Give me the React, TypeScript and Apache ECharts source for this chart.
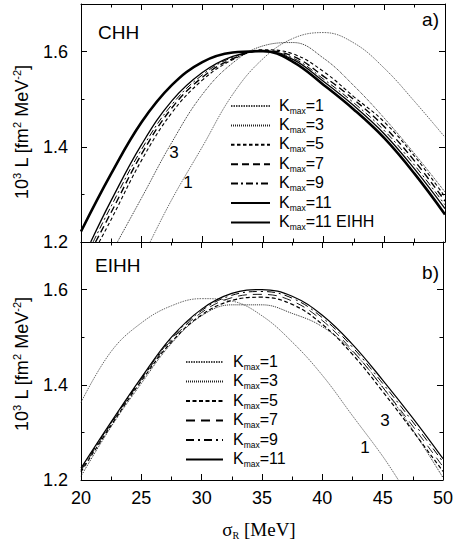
import React, { useEffect, useRef } from "react";
import * as echarts from "echarts";

// ---------- data ----------
const X_MIN = 20;
const X_MAX = 50;
const X_STEP = 5;
const Y_MIN = 1.2;
const Y_MAX = 1.7;
const Y_STEP = 0.2;

// Panel a) CHH  [sigma_R, 10^3 L]
const chhK1 = [[25.7, 1.2], [27.5, 1.29], [30, 1.4], [32.5, 1.51], [35, 1.585], [37.5, 1.628], [40, 1.64], [42.5, 1.618], [45, 1.565], [47.5, 1.495], [50, 1.42]];
const chhK3 = [[23.0, 1.2], [25, 1.293], [27.5, 1.41], [30, 1.51], [32.5, 1.576], [35, 1.612], [37.5, 1.619], [40, 1.586], [42.5, 1.528], [45, 1.46], [47.5, 1.385], [50, 1.305]];
const chhK5 = [[21.5, 1.2], [22.5, 1.248], [25, 1.372], [27.5, 1.472], [30, 1.54], [32.5, 1.583], [35, 1.604], [37.5, 1.595], [40, 1.558], [42.5, 1.505], [45, 1.452], [47.5, 1.38], [50, 1.295]];
const chhK7 = [[21.2, 1.2], [22.5, 1.263], [25, 1.385], [27.5, 1.482], [30, 1.546], [32.5, 1.585], [35, 1.602], [37.5, 1.59], [40, 1.548], [42.5, 1.499], [45, 1.442], [47.5, 1.37], [50, 1.286]];
const chhK9 = [[21.0, 1.2], [22.5, 1.276], [25, 1.395], [27.5, 1.489], [30, 1.551], [32.5, 1.588], [35, 1.601], [37.5, 1.586], [40, 1.542], [42.5, 1.492], [45, 1.434], [47.5, 1.361], [50, 1.278]];
const chhK11 = [[20.8, 1.2], [22.5, 1.288], [25, 1.405], [27.5, 1.497], [30, 1.556], [32.5, 1.59], [35, 1.601], [37.5, 1.583], [40, 1.537], [42.5, 1.486], [45, 1.427], [47.5, 1.353], [50, 1.27]];
const chhK11eihh = [[20, 1.222], [22.5, 1.344], [25, 1.452], [27.5, 1.53], [30, 1.578], [32.5, 1.598], [35, 1.601], [37.5, 1.578], [40, 1.53], [42.5, 1.478], [45, 1.418], [47.5, 1.343], [50, 1.258]];

// Panel b) EIHH
const eihhK1 = [[20, 1.363], [22.5, 1.47], [25, 1.53], [27.5, 1.566], [30, 1.581], [32.5, 1.576], [35, 1.545], [37.5, 1.49], [40, 1.42], [42.5, 1.335], [45, 1.25], [46.3, 1.2]];
const eihhK3 = [[20, 1.208], [22.5, 1.312], [25, 1.403], [27.5, 1.487], [30, 1.545], [32.5, 1.568], [35, 1.568], [37.5, 1.55], [40, 1.522], [42.5, 1.47], [45, 1.395], [47.5, 1.305], [50, 1.205]];
const eihhK5 = [[20, 1.217], [22.5, 1.315], [25, 1.408], [27.5, 1.49], [30, 1.547], [32.5, 1.577], [35, 1.584], [37.5, 1.569], [40, 1.527], [42.5, 1.464], [45, 1.386], [47.5, 1.303], [50, 1.218]];
const eihhK7 = [[20, 1.22], [22.5, 1.318], [25, 1.411], [27.5, 1.494], [30, 1.552], [32.5, 1.583], [35, 1.59], [37.5, 1.576], [40, 1.535], [42.5, 1.472], [45, 1.395], [47.5, 1.313], [50, 1.228]];
const eihhK9 = [[20, 1.222], [22.5, 1.32], [25, 1.413], [27.5, 1.497], [30, 1.556], [32.5, 1.588], [35, 1.596], [37.5, 1.582], [40, 1.541], [42.5, 1.479], [45, 1.403], [47.5, 1.322], [50, 1.238]];
const eihhK11 = [[20, 1.225], [22.5, 1.322], [25, 1.415], [27.5, 1.5], [30, 1.559], [32.5, 1.592], [35, 1.6], [37.5, 1.586], [40, 1.546], [42.5, 1.485], [45, 1.41], [47.5, 1.33], [50, 1.245]];

const TOP_LEGEND = ["1", "3", "5", "7", "9", "11", "11 EIHH"];
const BOT_LEGEND = ["1", "3", "5", "7", "9", "11"];

const SANS = '"Liberation Sans", Arial, Helvetica, sans-serif';
const SERIF = '"Liberation Serif", "Times New Roman", serif';

type Style = { w: number; dash: number[] | "solid"; color: string };

const topStyles: Style[] = [
  { w: 0.8, dash: [1.5, 1], color: "#444" },
  { w: 1.0, dash: [1, 1], color: "#222" },
  { w: 1.1, dash: [3.5, 2.5], color: "#000" },
  { w: 1.4, dash: [7, 4], color: "#000" },
  { w: 1.0, dash: [7, 3, 2, 3], color: "#000" },
  { w: 1.3, dash: "solid", color: "#000" },
  { w: 2.6, dash: "solid", color: "#000" },
];
const botStyles: Style[] = [
  { w: 0.8, dash: [1.5, 1], color: "#444" },
  { w: 1.0, dash: [1, 1], color: "#222" },
  { w: 1.2, dash: [4, 2.5], color: "#000" },
  { w: 0.9, dash: [9, 6], color: "#000" },
  { w: 1.0, dash: [8, 4, 2, 4], color: "#000" },
  { w: 1.2, dash: "solid", color: "#000" },
];

function makeAxesX(grid: number, labels: boolean) {
  const base = {
    gridIndex: grid,
    type: "value",
    min: X_MIN,
    max: X_MAX,
    interval: X_STEP,
    splitLine: { show: false },
    axisLine: { onZero: false, lineStyle: { color: "#000", width: 1 } },
    axisTick: { inside: true, length: 6, lineStyle: { color: "#000" } },
    minorTick: { show: true, splitNumber: 2, length: 3.5, lineStyle: { color: "#000" } },
  };
  return [
    {
      ...base,
      position: "bottom",
      axisLabel: { show: labels, color: "#000", fontSize: 18, fontFamily: SANS, margin: 9 },
    },
    { ...base, position: "top", axisLabel: { show: false } },
  ];
}

function makeAxesY(grid: number) {
  const base = {
    gridIndex: grid,
    type: "value",
    min: Y_MIN,
    max: Y_MAX,
    interval: Y_STEP,
    splitLine: { show: false },
    axisLine: { onZero: false, lineStyle: { color: "#000", width: 1 } },
    axisTick: { inside: true, length: 6, lineStyle: { color: "#000" } },
    minorTick: { show: true, splitNumber: 2, length: 3.5, lineStyle: { color: "#000" } },
  };
  return [
    {
      ...base,
      position: "left",
      axisLabel: {
        show: true,
        color: "#000",
        fontSize: 18,
        fontFamily: SANS,
        margin: 13,
        formatter: (v: number) => (Math.abs(v - Y_MAX) < 1e-6 ? "" : v.toFixed(1)),
      },
    },
    { ...base, position: "right", axisLabel: { show: false } },
  ];
}

function lineSeries(name: string, data: number[][], st: Style, axisIdx: number) {
  return {
    name,
    type: "line",
    xAxisIndex: axisIdx,
    yAxisIndex: axisIdx,
    data,
    smooth: 0.4,
    symbol: "none",
    showSymbol: false,
    silent: true,
    lineStyle: { width: st.w, type: st.dash, color: st.color, cap: "butt" },
    itemStyle: { color: st.color },
  };
}

const legendRich = {
  k: { fontSize: 16, lineHeight: 18, verticalAlign: "top", fontFamily: SANS, color: "#000" },
  m: { fontSize: 8.5, lineHeight: 9, verticalAlign: "bottom", fontFamily: SANS, color: "#000" },
};

export default function App() {
  const ref = useRef<HTMLDivElement>(null);
  useEffect(() => {
    if (!ref.current) return;
    const chart = echarts.init(ref.current, undefined, { renderer: "svg" });

    const topData = [chhK1, chhK3, chhK5, chhK7, chhK9, chhK11, chhK11eihh];
    const botData = [eihhK1, eihhK3, eihhK5, eihhK7, eihhK9, eihhK11];
    const topNames = TOP_LEGEND.map((k) => "CHH K=" + k);
    const botNames = BOT_LEGEND.map((k) => "EIHH K=" + k);
    const labelOf: Record<string, string> = {};
    topNames.forEach((n, i) => (labelOf[n] = TOP_LEGEND[i]));
    botNames.forEach((n, i) => (labelOf[n] = BOT_LEGEND[i]));
    const fmt = (name: string) => `{k|K}{m|max}{k|=${labelOf[name]}}`;

    const series: any[] = [];
    topData.forEach((d, i) => series.push(lineSeries(topNames[i], d, topStyles[i], 0)));
    botData.forEach((d, i) => series.push(lineSeries(botNames[i], d, botStyles[i], 2)));

    const txt = (x: number, y: number, text: string, size: number, align = "left") => ({
      type: "text",
      x,
      y,
      silent: true,
      style: { text, fontSize: size, fontFamily: SANS, fill: "#000", align, verticalAlign: "middle" },
    });

    const yTitle = (y: number) => ({
      type: "text",
      x: 22,
      y,
      rotation: Math.PI / 2,
      silent: true,
      style: {
        text: "{n|10}{p|3}{n| L [fm}{p|2}{n| MeV}{p|-2}{n|]}",
        align: "center",
        verticalAlign: "middle",
        fill: "#000",
        rich: {
          n: { fontSize: 18, lineHeight: 22, verticalAlign: "middle", fontFamily: SANS, fill: "#000" },
          p: { fontSize: 11, lineHeight: 11, verticalAlign: "top", fontFamily: SANS, fill: "#000" },
        },
      },
    });

    const legendBase = {
      orient: "vertical",
      itemHeight: 14,
      selectedMode: false,
      formatter: fmt,
      itemStyle: { opacity: 0, borderWidth: 0 },
    };

    chart.setOption({
      animation: false,
      backgroundColor: "#fff",
      grid: [
        { left: 81, top: 4, width: 364, height: 238, containLabel: false },
        { left: 81, top: 242, width: 364, height: 238, containLabel: false },
      ],
      xAxis: [...makeAxesX(0, false), ...makeAxesX(1, true)],
      yAxis: [...makeAxesY(0), ...makeAxesY(1)],
      legend: [
        {
          ...legendBase,
          data: topNames,
          left: 225,
          top: 92,
          itemWidth: 39,
          itemGap: 1.4,
          textStyle: { rich: legendRich, padding: [0, 0, 0, 4] },
        },
        {
          ...legendBase,
          data: botNames,
          left: 180,
          top: 348,
          itemWidth: 37,
          itemGap: 1.5,
          textStyle: { rich: legendRich, padding: [0, 0, 0, 5] },
        },
      ],
      graphic: [
        txt(98, 32, "CHH", 19),
        txt(439, 19, "a)", 19, "right"),
        txt(95, 265, "EIHH", 19),
        txt(439, 272, "b)", 19, "right"),
        txt(174, 152, "3", 17, "center"),
        txt(188, 182, "1", 17, "center"),
        txt(385, 420, "3", 17, "center"),
        txt(365, 447, "1", 17, "center"),
        yTitle(132),
        yTitle(364),
        {
          type: "text",
          x: 259,
          y: 530,
          silent: true,
          style: {
            text: "{s|σ}{r|R}{s| [MeV]}",
            align: "center",
            verticalAlign: "middle",
            fill: "#000",
            rich: {
              s: { fontSize: 19, lineHeight: 20, verticalAlign: "top", fontFamily: SERIF, fill: "#000" },
              r: { fontSize: 10, lineHeight: 10, verticalAlign: "bottom", fontFamily: SERIF, fill: "#000" },
            },
          },
        },
      ],
      series,
    });
    return () => chart.dispose();
  }, []);

  return (
    <div
      ref={ref}
      style={{ position: "absolute", left: 0, top: 0, width: 456, height: 544, background: "#fff" }}
    />
  );
}
